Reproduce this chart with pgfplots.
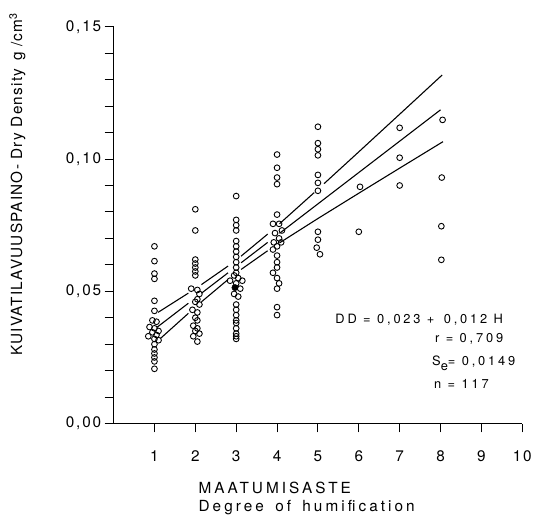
\documentclass[border=0pt]{standalone}
\usepackage{fontspec}
\setmainfont{TeX Gyre Heros}
\newfontfamily\lsf[LetterSpace=12]{TeX Gyre Heros}
\newfontfamily\lsl[LetterSpace=8]{TeX Gyre Heros}
\newfontfamily\lsx[LetterSpace=20]{TeX Gyre Heros}
\newfontfamily\lse[LetterSpace=22]{TeX Gyre Heros}
\newcommand\tickfont{\fontsize{15.5}{18}\selectfont\lsf}
\newcommand\labfont{\fontsize{15.5}{18}\selectfont\lsl}
\newcommand\xlabfont{\fontsize{15.5}{18}\selectfont\lsx}
\newcommand\eqfont{\fontsize{13}{16}\selectfont\lse}
\usepackage{pgfplots}
\pgfplotsset{compat=1.18}
\begin{document}
\begin{tikzpicture}[x=1bp,y=1bp]
\begin{axis}[
  at={(0,0)}, anchor=south west,
  scale only axis, width=412bp, height=400bp,
  xmin=0, xmax=10, ymin=0, ymax=0.15,
  axis x line*=bottom, axis y line*=left,
  xtick={1,2,3,4,5,6,7,8,9,10},
  ytick={0,0.05,0.1,0.15},
  minor ytick={0.01,0.02,0.03,0.04,0.06,0.07,0.08,0.09,0.11,0.12,0.13,0.14},
  tick align=outside, major tick length=9bp, minor tick length=9bp,
  tick style={line width=0.9bp, black},
  axis line style={line width=0.9bp, black},
  scaled y ticks=false,
  clip=false,
  /pgf/number format/assume math mode=true,
  yticklabel style={/pgf/number format/.cd, fixed, fixed zerofill, precision=2, use comma, /tikz/.cd, font=\tickfont},
  xticklabel style={font=\tickfont, yshift=-15bp},
]
% column 1
\addplot[only marks, mark=o, mark size=2.9bp, mark options={line width=0.9bp, black}] coordinates {
(1,0.067) (1,0.0614) (1,0.0567) (1,0.0547) (1,0.0464) (1,0.0426)
(0.95,0.039) (1.05,0.0385) (0.88,0.0365) (1,0.036) (1.1,0.035) (0.95,0.0345)
(1.05,0.0335) (0.85,0.033) (1,0.032) (1.1,0.0315) (1,0.030) (1,0.028)
(1,0.0265) (1,0.025) (1,0.0235) (1,0.0207)
};
% column 2
\addplot[only marks, mark=o, mark size=2.9bp, mark options={line width=0.9bp, black}] coordinates {
(2,0.081) (2,0.073) (2,0.062) (2,0.0605) (2,0.059) (2,0.0575) (2,0.056)
(1.9,0.051) (2.05,0.0505) (2.1,0.049) (2.05,0.047) (2,0.046) (2.1,0.045)
(1.93,0.043) (2.05,0.042) (2,0.040) (2.05,0.039) (1.95,0.037) (2.05,0.036)
(2,0.035) (2.1,0.034) (1.95,0.033) (2.05,0.031)
};
% column 3
\addplot[only marks, mark=o, mark size=2.9bp, mark options={line width=0.9bp, black}] coordinates {
(3,0.086) (3,0.077) (3,0.075) (3,0.073) (3,0.069) (3,0.067) (3,0.065)
(3,0.063) (3,0.061) (3,0.059) (3,0.057) (2.85,0.054) (2.95,0.056)
(3.05,0.055) (3.15,0.054) (3,0.053) (3.1,0.051) (2.95,0.049) (3.05,0.048)
(3,0.045) (3,0.043) (3,0.041) (3,0.039) (3,0.038) (3,0.036) (3,0.034)
(3,0.033) (3,0.032)
};
\addplot[only marks, mark=*, mark size=3.2bp, mark options={black}] coordinates {(2.97,0.0514)};
% column 4
\addplot[only marks, mark=o, mark size=2.9bp, mark options={line width=0.9bp, black}] coordinates {
(4,0.1017) (4,0.0967) (4,0.093) (4,0.0905) (4,0.079) (3.9,0.0755)
(4.05,0.0755) (4.12,0.073) (3.95,0.072) (4.05,0.070) (3.92,0.0685)
(4.1,0.0685) (4,0.067) (3.9,0.0658) (4,0.0635) (4,0.061) (4,0.059)
(3.9,0.057) (4,0.055) (4.05,0.053) (4,0.051) (4,0.044) (4,0.041)
};
% columns 5-8
\addplot[only marks, mark=o, mark size=2.9bp, mark options={line width=0.9bp, black}] coordinates {
(5,0.1122) (5,0.106) (5,0.1037) (5,0.1014) (5,0.094) (5,0.091) (5,0.088)
(5,0.0725) (5,0.0695) (4.97,0.0665) (5.05,0.064)
(6.03,0.0895) (6,0.0725)
(7,0.1118) (7,0.1005) (7,0.090)
(8.05,0.1148) (8.03,0.093) (8.02,0.0746) (8.02,0.0619)
};
% regression line
\addplot[line width=1.1bp, black] coordinates {(1.06,0.036361) (1.83,0.045486)};
\addplot[line width=1.1bp, black] coordinates {(2.15,0.049278) (2.80,0.05698)};
\addplot[line width=1.1bp, black] coordinates {(3.12,0.060772) (3.77,0.068475)};
\addplot[line width=1.1bp, black] coordinates {(4.06,0.071911) (8.0,0.1186)};
% upper band
\addplot[line width=1.1bp, black] coordinates {(1.09,0.042056) (1.83,0.049307)};
\addplot[line width=1.1bp, black] coordinates {(2.15,0.052543) (2.80,0.059528)};
\addplot[line width=1.1bp, black] coordinates {(3.12,0.06329) (3.77,0.071616)};
\addplot[line width=1.1bp, black] coordinates {(4.06,0.075531) (4.91,0.087323)};
\addplot[line width=1.1bp, black] coordinates {(5.15,0.090697) (6,0.10272) (7,0.11694) (8.04,0.13177)};
% lower band
\addplot[line width=1.1bp, black] coordinates {(1.15,0.03222) (1.83,0.041665)};
\addplot[line width=1.1bp, black] coordinates {(2.15,0.046013) (2.80,0.054432)};
\addplot[line width=1.1bp, black] coordinates {(3.12,0.058254) (3.77,0.065334)};
\addplot[line width=1.1bp, black] coordinates {(4.06,0.068291) (5,0.077514) (6,0.08708) (7,0.09656) (8.06,0.106566)};
\end{axis}
\node[rotate=90, font=\labfont] at (-97,241) {KUIVATILAVUUSPAINO- Dry Density\hspace{8bp}g /cm\textsuperscript{3}};
\node[anchor=base west, font=\xlabfont, inner sep=0pt] at (85.5,-70) {MAATUMISASTE};
\node[anchor=base west, font=\xlabfont, inner sep=0pt] at (85.5,-89) {Degree\hspace{4bp} of\hspace{4bp} humification};
\node[anchor=base west, font=\eqfont, inner sep=0pt] at (223.5,101) {DD = 0,023 +\hspace{3bp} 0,012 H};
\node[anchor=base west, font=\eqfont, inner sep=0pt] at (324,82) {r = 0,709};
\node[anchor=base west, font=\eqfont, inner sep=0pt] at (321,59) {S\raisebox{-6bp}{e}= 0,0149};
\node[anchor=base west, font=\eqfont, inner sep=0pt] at (323,35) {n = 117};
\path[use as bounding box] (-114.5,-93) rectangle (420.5,427);
\end{tikzpicture}
\end{document}
